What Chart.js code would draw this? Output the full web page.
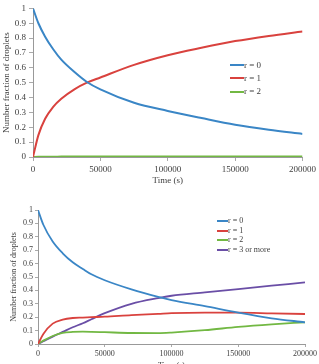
<!DOCTYPE html>
<html>
<head>
<meta charset="utf-8">
<script src="https://cdn.jsdelivr.net/npm/chart.js@4"></script>
<style>
  html, body { margin: 0; padding: 0; background: #fff; overflow: hidden; }
  body { width: 319px; height: 364px; position: relative; font-family: 'Liberation Serif', serif; color: #404040; }
  canvas { position: absolute; left: 0; }
  #top { top: 0; }
  #bottom { top: 185px; }
  .legend { position: absolute; }
  .legend div { position: absolute; white-space: nowrap; }
  .legend span.l { position: absolute; left: 0; height: 2px; }
  .legend span.t { position: absolute; }
</style>
</head>
<body>
<canvas id="top" width="319" height="186"></canvas>
<canvas id="bottom" width="319" height="186"></canvas>
<div id="legTop" class="legend"></div>
<div id="legBottom" class="legend"></div>
<script>
// top chart: r = 0, 1, 2
const topTime = [0, 4000, 9000, 15000, 21000, 31000, 40000, 50000, 75000, 100000, 125000, 150000, 175000, 200000];
const topR0 = [1, 0.9, 0.81, 0.725, 0.655, 0.57, 0.505, 0.455, 0.365, 0.31, 0.262, 0.217, 0.183, 0.155];
const topR1 = [0, 0.147, 0.257, 0.338, 0.392, 0.457, 0.5, 0.535, 0.62, 0.685, 0.735, 0.78, 0.815, 0.845];
const topR2 = [0, 0.001, 0.002, 0.002, 0.003, 0.003, 0.003, 0.003, 0.003, 0.003, 0.003, 0.003, 0.003, 0.003];

// bottom chart: r = 0, 1, 2, 3 or more
const botTime = [0, 4000, 11000, 18500, 26000, 33600, 40000, 50000, 70000, 90000, 100000, 125000, 150000, 175000, 200000];
const botR0 = [1, 0.89, 0.765, 0.677, 0.61, 0.56, 0.52, 0.476, 0.408, 0.352, 0.328, 0.282, 0.234, 0.192, 0.162];
const botR1 = [0, 0.075, 0.152, 0.182, 0.194, 0.197, 0.2, 0.204, 0.216, 0.225, 0.23, 0.234, 0.234, 0.229, 0.224];
const botR2 = [0, 0.025, 0.06, 0.083, 0.09, 0.092, 0.091, 0.088, 0.082, 0.081, 0.085, 0.103, 0.128, 0.147, 0.162];
const botR3 = [0, 0.02, 0.055, 0.09, 0.125, 0.155, 0.185, 0.23, 0.3, 0.343, 0.36, 0.385, 0.41, 0.435, 0.46];

const topLabels = ["r = 0", "r = 1", "r = 2"];
const botLabels = ["r = 0", "r = 1", "r = 2", "r = 3 or more"];
const colors = ["#3a86c6", "#d9423e", "#72b843", "#6a4ea6"];

Chart.defaults.font.family = "'Liberation Serif', serif";
Chart.defaults.color = "#404040";

function pts(xs, ys) { return xs.map((x, i) => ({ x: x, y: ys[i] })); }

function makeChart(id, time, series, o) {
  new Chart(document.getElementById(id), {
    type: 'line',
    data: {
      datasets: series.map((s, i) => ({
        data: pts(time, s),
        borderColor: colors[i],
        borderWidth: o.lw,
        pointRadius: 0,
        cubicInterpolationMode: 'monotone'
      }))
    },
    options: {
      responsive: false,
      animation: false,
      devicePixelRatio: 1,
      layout: { padding: { top: o.top, right: o.right, left: 0, bottom: 0 } },
      plugins: { legend: { display: false }, tooltip: { enabled: false } },
      scales: {
        x: {
          type: 'linear', min: 0, max: 200000,
          afterFit: s => { s.height = o.xh; },
          ticks: { stepSize: 50000, maxRotation: 0, padding: o.pad, font: { size: o.fs }, callback: v => String(v) },
          grid: { drawOnChartArea: false, tickLength: o.tl, color: '#aaa' },
          border: { color: '#999' },
          title: { display: true, text: 'Time (s)', font: { size: o.fs }, padding: { top: 0, bottom: 0 } }
        },
        y: {
          min: 0, max: 1,
          afterFit: s => { s.width = o.yw; },
          ticks: { stepSize: 0.1, padding: o.pad, font: { size: o.fs }, callback: v => String(Math.round(v * 10) / 10) },
          grid: { drawOnChartArea: false, tickLength: o.tl, color: '#aaa' },
          border: { color: '#999' },
          title: { display: true, text: 'Number fraction of droplets', font: { size: o.fs }, padding: { top: o.ytp, bottom: 0 } }
        }
      }
    }
  });
}

makeChart('top', topTime, [topR0, topR1, topR2],
  { lw: 2, top: 6, right: 16, xh: 29, yw: 33, fs: 9, tl: 4, pad: 3, ytp: 1 });
makeChart('bottom', botTime, [botR0, botR1, botR2, botR3],
  { lw: 1.8, top: 25, right: 12, xh: 27, yw: 38, fs: 8, tl: 3, pad: 2, ytp: 9 });

function legend(elId, labels, x, y, gap, lineW, fs) {
  const el = document.getElementById(elId);
  el.style.left = x + 'px';
  el.style.top = y + 'px';
  el.innerHTML = labels.map((t, i) =>
    `<div style="top:${i * gap}px;font-size:${fs}px;">` +
    `<span class="l" style="width:${lineW}px;background:${colors[i]};top:-1px"></span>` +
    `<span class="t" style="left:${lineW}px;top:${-fs * 0.6}px">${t}</span></div>`).join('');
}
legend('legTop', topLabels, 230, 65, 13.3, 14, 9);
legend('legBottom', botLabels, 217, 221, 9.6, 11, 8);
</script>
</body>
</html>
